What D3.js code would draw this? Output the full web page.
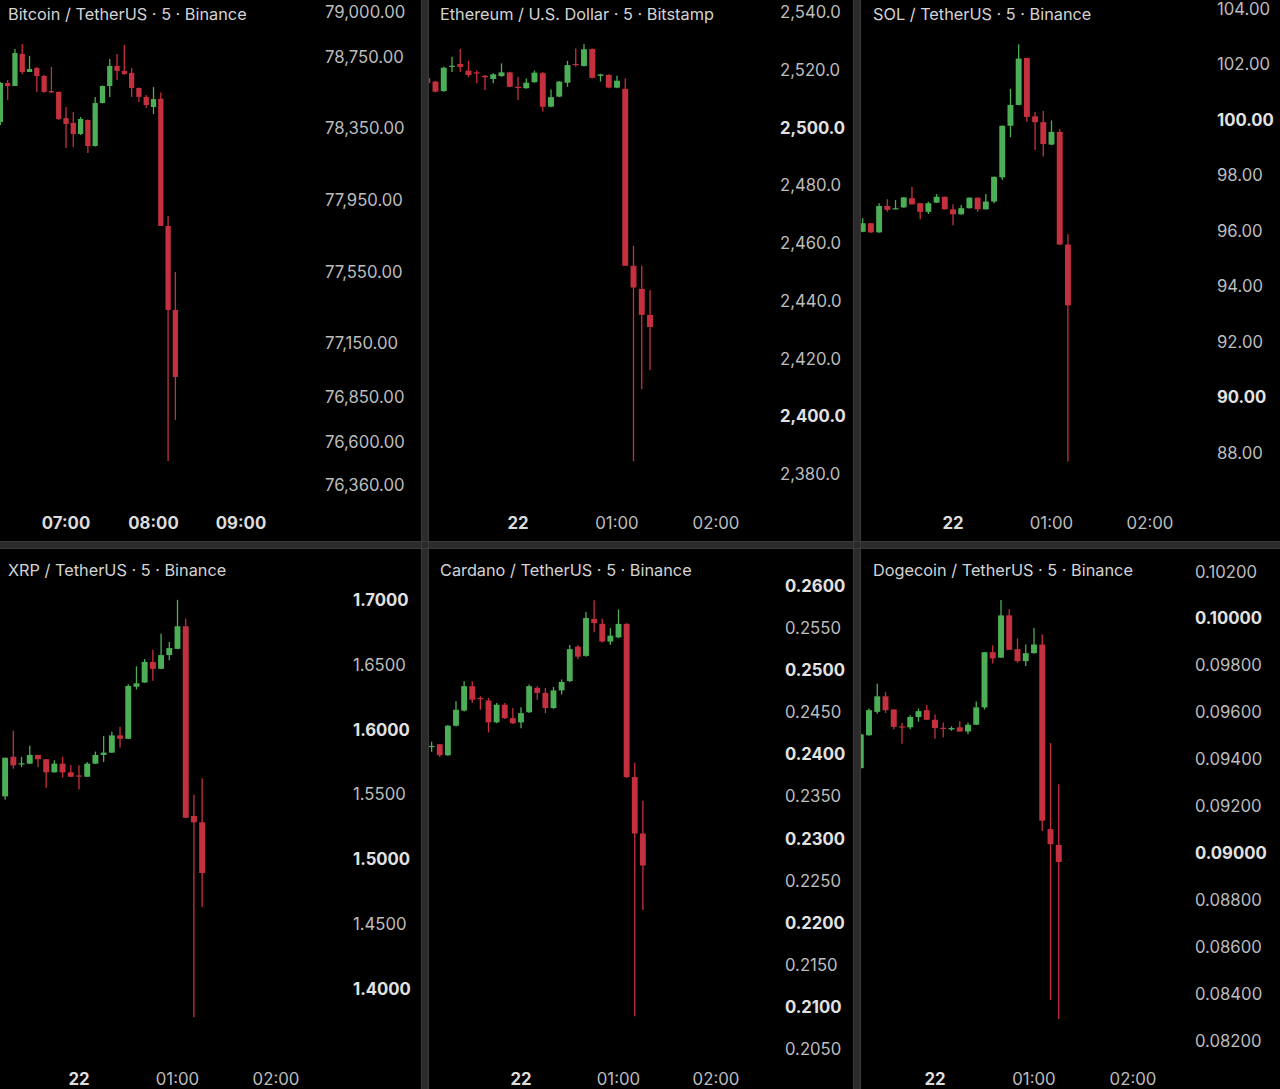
<!DOCTYPE html>
<html><head><meta charset="utf-8">
<script src="https://cdn.jsdelivr.net/npm/d3@7"></script>
<style>html,body{margin:0;padding:0;background:#000;overflow:hidden}</style>
</head><body><svg id="c" width="1280" height="1089"></svg>
<script>
// ---------- DATA ----------
const titles = [
  "Bitcoin / TetherUS · 5 · Binance",
  "Ethereum / U.S. Dollar · 5 · Bitstamp",
  "SOL / TetherUS · 5 · Binance",
  "XRP / TetherUS · 5 · Binance",
  "Cardano / TetherUS · 5 · Binance",
  "Dogecoin / TetherUS · 5 · Binance"
];
// candle start times, minutes from midnight of the 22nd
const startTimes = [375, -55, -55, -45, -55, -45];

// [open, high, low, close]
const btcCandles = [
  [78386,78610,78370,78604],[78604,78620,78509,78587],[78587,78793,78587,78771],
  [78766,78821,78654,78665],[78665,78754,78665,78682],[78687,78693,78554,78643],
  [78643,78648,78550,78554],[78559,78693,78548,78551],[78554,78556,78397,78403],
  [78408,78470,78241,78375],[78381,78442,78247,78319],[78319,78414,78314,78403],
  [78397,78400,78213,78252],[78252,78526,78250,78492],[78492,78590,78490,78587],
  [78587,78738,78526,78699],[78699,78766,78620,78671],[78671,78816,78650,78654],
  [78660,78687,78526,78576],[78576,78578,78498,78526],[78526,78537,78464,78481],
  [78470,78581,78431,78514],[78516,78551,77806,77806],[77806,77861,76494,77337],
  [77337,77549,76723,76963]
];
const ethCandles = [
  [2517.1,2517.5,2515.2,2515.4],[2515.9,2516.2,2512.2,2512.4],[2512.6,2521.0,2512.4,2520.7],
  [2521.1,2524.5,2519.2,2521.4],[2522.0,2527.2,2519.2,2521.0],[2519.7,2523.1,2517.4,2518.2],
  [2519.1,2519.7,2515.3,2518.8],[2517.9,2518.2,2513.0,2517.4],[2516.8,2518.8,2515.3,2518.4],
  [2517.8,2522.2,2517.6,2519.1],[2519.1,2519.3,2513.9,2514.1],[2514.1,2517.6,2509.5,2513.8],
  [2513.6,2517.0,2513.4,2515.5],[2515.7,2519.7,2515.5,2519.0],[2518.8,2519.2,2505.5,2507.2],
  [2507.2,2513.2,2507.0,2510.5],[2510.7,2516.1,2510.5,2515.9],[2515.5,2523.1,2514.1,2521.6],
  [2522.0,2527.4,2521.0,2521.6],[2521.3,2528.9,2521.1,2527.1],[2527.2,2527.4,2517.0,2517.2],
  [2517.9,2518.6,2515.9,2518.4],[2518.2,2518.4,2513.6,2513.8],[2513.8,2517.9,2513.6,2516.2],
  [2513.4,2517.0,2452.0,2452.1],[2452.1,2459.0,2384.4,2444.6],[2444.1,2452.1,2409.4,2435.1],
  [2435.1,2443.7,2416.0,2430.9]
];
const solCandles = [
  [95.96,96.45,95.94,96.27],[96.27,96.28,95.92,95.94],[95.94,96.99,95.93,96.89],
  [96.89,97.13,96.68,96.75],[96.77,97.11,96.77,96.81],[96.84,97.21,96.83,97.20],
  [97.17,97.58,96.94,96.95],[96.99,97.00,96.41,96.68],[96.68,97.05,96.60,96.99],
  [97.01,97.32,97.00,97.22],[97.22,97.23,96.76,96.77],[96.77,96.95,96.20,96.59],
  [96.59,96.93,96.58,96.81],[96.81,97.20,96.80,97.19],[97.19,97.20,96.68,96.77],
  [96.77,97.32,96.76,97.05],[97.05,97.95,96.99,97.94],[97.92,99.79,97.83,99.78],
  [99.78,101.11,99.37,100.53],[100.53,102.72,100.52,102.20],[102.22,102.23,99.92,100.10],
  [100.12,100.28,98.91,99.91],[99.91,100.31,98.67,99.12],[99.10,99.97,99.09,99.56],
  [99.56,99.66,95.49,95.50],[95.50,95.87,87.69,93.31]
];
const xrpCandles = [
  [1.5485,1.5785,1.5458,1.5782],[1.5790,1.5990,1.5697,1.5724],[1.5735,1.5790,1.5710,1.5740],
  [1.5737,1.5875,1.5735,1.5804],[1.5804,1.5806,1.5710,1.5771],[1.5771,1.5772,1.5551,1.5670],
  [1.5670,1.5764,1.5668,1.5737],[1.5737,1.5790,1.5630,1.5670],[1.5670,1.5724,1.5634,1.5636],
  [1.5646,1.5724,1.5538,1.5642],[1.5636,1.5750,1.5634,1.5737],[1.5737,1.5830,1.5736,1.5804],
  [1.5804,1.5950,1.5750,1.5822],[1.5822,1.5982,1.5820,1.5955],[1.5955,1.6022,1.5862,1.5929],
  [1.5929,1.6349,1.5927,1.6336],[1.6330,1.6487,1.6309,1.6356],[1.6362,1.6543,1.6360,1.6521],
  [1.6521,1.6615,1.6376,1.6468],[1.6468,1.6739,1.6466,1.6574],[1.6574,1.6675,1.6535,1.6628],
  [1.6622,1.7000,1.6620,1.6796],[1.6796,1.6854,1.5318,1.5320],[1.5333,1.5498,1.3782,1.5285],
  [1.5285,1.5625,1.4633,1.4894]
];
const adaCandles = [
  [0.2409,0.2415,0.2403,0.2410],[0.2412,0.2412,0.2397,0.2399],[0.2399,0.2435,0.2398,0.2434],
  [0.2434,0.2463,0.2433,0.2453],[0.2452,0.2487,0.2451,0.2481],[0.2481,0.2487,0.2461,0.2465],
  [0.2467,0.2469,0.2453,0.2466],[0.2464,0.2467,0.2426,0.2438],[0.2438,0.2461,0.2437,0.2459],
  [0.2459,0.2461,0.2442,0.2443],[0.2443,0.2455,0.2436,0.2437],[0.2438,0.2456,0.2431,0.2449],
  [0.2450,0.2483,0.2449,0.2481],[0.2479,0.2481,0.2465,0.2473],[0.2473,0.2479,0.2449,0.2455],
  [0.2455,0.2480,0.2454,0.2476],[0.2476,0.2489,0.2471,0.2486],[0.2487,0.2530,0.2486,0.2525],
  [0.2528,0.2530,0.2513,0.2516],[0.2517,0.2569,0.2516,0.2562],[0.2561,0.2583,0.2545,0.2556],
  [0.2555,0.2561,0.2533,0.2534],[0.2534,0.2550,0.2530,0.2541],[0.2539,0.2572,0.2538,0.2555],
  [0.2555,0.2556,0.2372,0.2373],[0.2373,0.2390,0.2089,0.2306],[0.2306,0.2345,0.2215,0.2268]
];
const dogeCandles = [
  [0.09362,0.09510,0.09360,0.09506],[0.09502,0.09616,0.09500,0.09609],[0.09602,0.09722,0.09594,0.09668],
  [0.09668,0.09686,0.09597,0.09609],[0.09612,0.09613,0.09528,0.09538],[0.09540,0.09554,0.09466,0.09536],
  [0.09536,0.09587,0.09528,0.09580],[0.09580,0.09616,0.09560,0.09605],[0.09609,0.09631,0.09567,0.09568],
  [0.09568,0.09591,0.09487,0.09533],[0.09534,0.09557,0.09494,0.09533],[0.09527,0.09540,0.09521,0.09533],
  [0.09536,0.09562,0.09517,0.09518],[0.09518,0.09557,0.09506,0.09547],[0.09547,0.09646,0.09546,0.09621],
  [0.09621,0.09857,0.09612,0.09856],[0.09856,0.09886,0.09808,0.09830],[0.09833,0.10079,0.09831,0.10013],
  [0.10013,0.10039,0.09865,0.09866],[0.09869,0.09915,0.09811,0.09818],[0.09818,0.09889,0.09797,0.09852],
  [0.09852,0.09959,0.09850,0.09889],[0.09889,0.09932,0.09094,0.09138],[0.09102,0.09469,0.08374,0.09038],
  [0.09035,0.09293,0.08293,0.08962]
];

// price-axis tick values and which are drawn bold
const btcTicks = [79000,78750,78350,77950,77550,77150,76850,76600,76360];
const ethTicks = [2540,2520,2500,2480,2460,2440,2420,2400,2380];
const solTicks = [104,102,100,98,96,94,92,90,88];
const xrpTicks = [1.70,1.65,1.60,1.55,1.50,1.45,1.40];
const adaTicks = [0.260,0.255,0.250,0.245,0.240,0.235,0.230,0.225,0.220,0.215,0.210,0.205];
const dogeTicks = [0.102,0.100,0.098,0.096,0.094,0.092,0.090,0.088,0.086,0.084,0.082];
const btcBold = [];
const ethBold = [2500,2400];
const solBold = [100,90];
const xrpBold = [1.70,1.60,1.50,1.40];
const adaBold = [0.260,0.250,0.240,0.230,0.220,0.210];
const dogeBold = [0.100,0.090];

// time-axis ticks (minutes from midnight of the 22nd) and their labels
const btcTimeTicks = [420,480,540];
const btcTimeLabels = ["07:00","08:00","09:00"];
const btcTimeBold = [true,true,true];
const dayTimeTicks = [0,60,120];
const dayTimeLabels = ["22","01:00","02:00"];
const dayTimeBold = [true,false,false];

// ---------- LAYOUT ----------
const svg = d3.select("#c");
svg.append("rect").attr("width",1280).attr("height",1089).attr("fill","#000");

const FONT = "Inter, 'Noto Sans', sans-serif";
const GREEN = "#4cae56", RED = "#c5303f";
const TITLE_SIZE = 16.3, LABEL_SIZE = 16.7, TIME_SIZE = 16.8;

const panels = [
  {x:0,   y:0,   w:421, h:541, data:btcCandles, ticks:btcTicks, bold:btcBold, fmt:d3.format(",.2f"),
   yDom:[76360,79000], yRng:[485,12], xDom:[420,540], xRng:[66,241], labX:325,
   tt:btcTimeTicks, tl:btcTimeLabels, tb:btcTimeBold, timeY:523, titleX:8, titleY:14},
  {x:429, y:0,   w:424, h:541, data:ethCandles, ticks:ethTicks, bold:ethBold, fmt:d3.format(",.1f"),
   yDom:[2380,2540], yRng:[474,12], xDom:[0,120], xRng:[89,287], labX:351,
   tt:dayTimeTicks, tl:dayTimeLabels, tb:dayTimeBold, timeY:523, titleX:11, titleY:14},
  {x:861, y:0,   w:419, h:541, data:solCandles, ticks:solTicks, bold:solBold, fmt:d3.format(".2f"),
   yDom:[88,104], yRng:[452.8,8.6], xDom:[0,120], xRng:[92,289], labX:356,
   tt:dayTimeTicks, tl:dayTimeLabels, tb:dayTimeBold, timeY:523, titleX:12, titleY:14},
  {x:0,   y:549, w:421, h:540, data:xrpCandles, ticks:xrpTicks, bold:xrpBold, fmt:d3.format(".4f"),
   yDom:[1.4,1.7], yRng:[440,50.8], xDom:[0,120], xRng:[79,276], labX:353,
   tt:dayTimeTicks, tl:dayTimeLabels, tb:dayTimeBold, timeY:530, titleX:8, titleY:21},
  {x:429, y:549, w:424, h:540, data:adaCandles, ticks:adaTicks, bold:adaBold, fmt:d3.format(".4f"),
   yDom:[0.205,0.26], yRng:[500,37], xDom:[0,120], xRng:[92,287], labX:356,
   tt:dayTimeTicks, tl:dayTimeLabels, tb:dayTimeBold, timeY:530, titleX:11, titleY:21},
  {x:861, y:549, w:419, h:540, data:dogeCandles, ticks:dogeTicks, bold:dogeBold, fmt:d3.format(".5f"),
   yDom:[0.082,0.102], yRng:[491.8,22.5], xDom:[0,120], xRng:[74,272], labX:334,
   tt:dayTimeTicks, tl:dayTimeLabels, tb:dayTimeBold, timeY:530, titleX:12, titleY:21}
];

const defs = svg.append("defs");

panels.forEach((p, pi) => {
  const g = svg.append("g").attr("transform", `translate(${p.x},${p.y})`);
  defs.append("clipPath").attr("id","clip"+pi)
    .append("rect").attr("x",0).attr("y",0).attr("width",p.w).attr("height",p.h);

  const y = d3.scaleLinear().domain(p.yDom).range(p.yRng);
  const x = d3.scaleLinear().domain(p.xDom).range(p.xRng);
  const step = x(5) - x(0);
  const bw = step * 0.72;
  const t0 = startTimes[pi];

  const cg = g.append("g").attr("clip-path", `url(#clip${pi})`);
  const candles = cg.selectAll("g.c").data(p.data).enter().append("g").attr("class","c");
  candles.each(function(d, i) {
    const [o,h,l,c] = d;
    const cx = x(t0 + 5*i);
    const col = c >= o ? GREEN : RED;
    const sel = d3.select(this);
    sel.append("line").attr("x1",cx).attr("x2",cx)
      .attr("y1",y(h)).attr("y2",y(l))
      .attr("stroke",col).attr("stroke-width",1.3);
    const top = y(Math.max(o,c)), bot = y(Math.min(o,c));
    sel.append("rect").attr("x",cx - bw/2).attr("width",bw)
      .attr("y",top).attr("height",Math.max(1.2, bot-top))
      .attr("fill",col);
  });

  // title
  g.append("text").attr("x",p.titleX).attr("y",p.titleY)
    .attr("dominant-baseline","central")
    .attr("font-family",FONT).attr("font-size",TITLE_SIZE).attr("fill","#d4d4d4")
    .text(titles[pi]);

  // price axis
  const boldSet = new Set(p.bold.map(v => v.toFixed(6)));
  g.selectAll("text.pt").data(p.ticks).enter().append("text").attr("class","pt")
    .attr("x",p.labX).attr("y",d => y(d))
    .attr("dominant-baseline","central")
    .attr("font-family",FONT).attr("font-size",LABEL_SIZE)
    .attr("font-weight",d => boldSet.has(d.toFixed(6)) ? 700 : 400)
    .attr("fill",d => boldSet.has(d.toFixed(6)) ? "#e2e2e2" : "#bdbdbd")
    .text(d => p.fmt(d));

  // time axis
  g.selectAll("text.tt").data(p.tt).enter().append("text").attr("class","tt")
    .attr("x",d => x(d)).attr("y",p.timeY)
    .attr("text-anchor","middle").attr("dominant-baseline","central")
    .attr("font-family",FONT).attr("font-size",TIME_SIZE)
    .attr("font-weight",(d,i) => p.tb[i] ? 700 : 400)
    .attr("fill",(d,i) => p.tb[i] ? "#dcdcdc" : "#bdbdbd")
    .text((d,i) => p.tl[i]);
});

// separators between panels
const sepFill = "#2b2b2b", sepEdge = "#3a3a3a";
[[421,0,8,1089],[853,0,8,1089],[0,541,1280,8]].forEach(r => {
  svg.append("rect").attr("x",r[0]).attr("y",r[1]).attr("width",r[2]).attr("height",r[3]).attr("fill",sepFill);
});
[[421.5,0,421.5,1089],[428.5,0,428.5,1089],[853.5,0,853.5,1089],[860.5,0,860.5,1089],
 [0,541.5,1280,541.5],[0,548.5,1280,548.5]].forEach(l => {
  svg.append("line").attr("x1",l[0]).attr("y1",l[1]).attr("x2",l[2]).attr("y2",l[3])
    .attr("stroke",sepEdge).attr("stroke-width",1);
});
</script>
</body></html>
